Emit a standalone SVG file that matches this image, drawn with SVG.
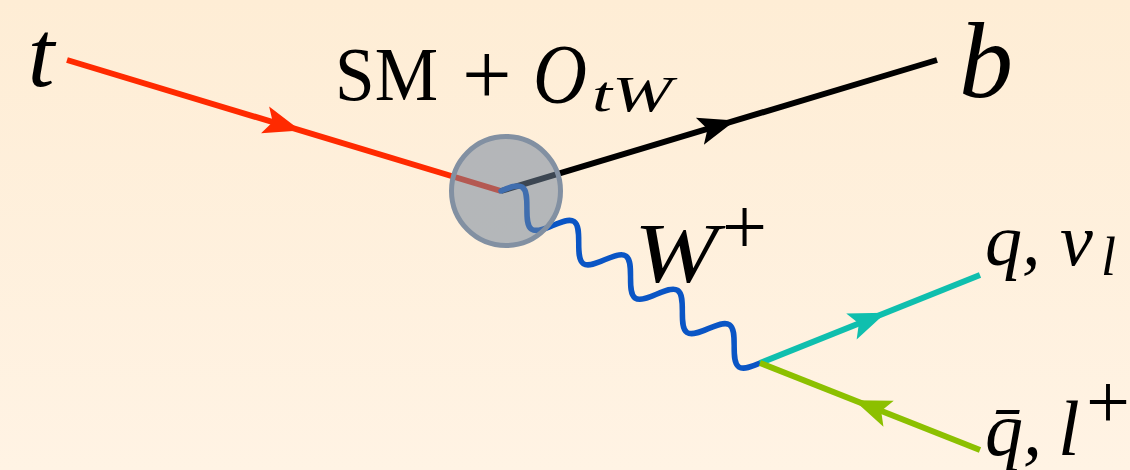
<svg xmlns="http://www.w3.org/2000/svg" xmlns:xlink="http://www.w3.org/1999/xlink" width="1130" height="470" viewBox="0 0 1130 470">
  <defs>
    <linearGradient id="bg" x1="0" y1="0" x2="0" y2="1">
      <stop offset="0" stop-color="#FEEDD5"/>
      <stop offset="1" stop-color="#FFF3E4"/>
    </linearGradient>
    <path id="arrowhead" d="M0,0 L-37,-14 L-29,0 L-37,14 Z"/>
    <style>
      .fermion { fill: none; stroke-width: 6; stroke-linecap: butt; }
      .boson { fill: none; stroke: #0A55C5; stroke-width: 5.5; stroke-linecap: round; }
      .it { font-family: "Liberation Serif", "Times New Roman", serif; font-style: italic; fill: #000; }
      .rm { font-family: "Liberation Serif", "Times New Roman", serif; font-style: normal; fill: #000; }
    </style>
  </defs>

  <rect x="0" y="0" width="1130" height="470" fill="url(#bg)"/>

  <g id="connectors">
    <line class="fermion" x1="67" y1="60" x2="501" y2="191" stroke="#FF2A00"/>
    <use xlink:href="#arrowhead" fill="#FF2A00" transform="translate(300.5,130.5) rotate(16.8)"/>
    <line class="fermion" x1="501" y1="191" x2="937" y2="60" stroke="#000000"/>
    <use xlink:href="#arrowhead" fill="#000000" transform="translate(735.3,120.6) rotate(-16.72)"/>
    <path class="boson" transform="translate(501,191) rotate(33.59)"
      d="M0,0 c5.07,-7.68 9.92,-15 15.55,-15 s10.48,7.32 15.55,15 s9.92,15 15.55,15 s10.48,-7.32 15.55,-15
         s9.92,-15 15.55,-15 s10.48,7.32 15.55,15 s9.92,15 15.55,15 s10.48,-7.32 15.55,-15
         s9.92,-15 15.55,-15 s10.48,7.32 15.55,15 s9.92,15 15.55,15 s10.48,-7.32 15.55,-15
         s9.92,-15 15.55,-15 s10.48,7.32 15.55,15 s9.92,15 15.55,15 s10.48,-7.32 15.55,-15
         s9.92,-15 15.55,-15 s10.48,7.32 15.55,15 s9.92,15 15.55,15 s10.48,-7.32 15.55,-15"/>
    <line class="fermion" x1="760" y1="363" x2="980" y2="275" stroke="#0FBFAE"/>
    <use xlink:href="#arrowhead" fill="#0FBFAE" transform="translate(885.8,312.7) rotate(-21.8)"/>
    <line class="fermion" x1="980" y1="450" x2="760" y2="363" stroke="#8CC000"/>
    <use xlink:href="#arrowhead" fill="#8CC000" transform="translate(854.2,400.2) rotate(201.6)"/>
  </g>

  <g id="vertex">
    <circle cx="506" cy="191" r="54.5" fill="#71849A" fill-opacity="0.53" stroke="#8290A2" stroke-width="5"/>
  </g>

  <g id="label-t">
    <text class="it" x="41" y="86" font-size="96" text-anchor="middle">t</text>
  </g>
  <g id="label-b">
    <text class="it" x="986" y="97" font-size="108" text-anchor="middle">b</text>
  </g>
  <g id="label-vertex">
    <text class="rm" x="335" y="100" font-size="76" textLength="103" lengthAdjust="spacingAndGlyphs">SM</text>
    <text class="rm" x="462" y="104" font-size="88">+</text>
    <text class="it" x="533" y="103" font-size="84" textLength="54" lengthAdjust="spacingAndGlyphs">O</text>
    <text class="it" x="592" y="111" font-size="50" textLength="80" lengthAdjust="spacingAndGlyphs">tW</text>
  </g>
  <g id="label-W">
    <text class="it" x="634" y="282" font-size="84" textLength="84" lengthAdjust="spacingAndGlyphs">W</text>
    <text class="rm" x="722" y="254" font-size="80">+</text>
  </g>
  <g id="label-q">
    <text class="it" x="985" y="265" font-size="74">q,</text>
    <text class="it" x="1060" y="265" font-size="74">ν</text>
    <text class="it" x="1101" y="275" font-size="54">l</text>
  </g>
  <g id="label-qbar">
    <text class="it" x="985" y="455" font-size="76">q̄,</text>
    <text class="it" x="1058" y="455" font-size="78">l</text>
    <text class="rm" x="1086" y="428" font-size="78">+</text>
  </g>
</svg>
